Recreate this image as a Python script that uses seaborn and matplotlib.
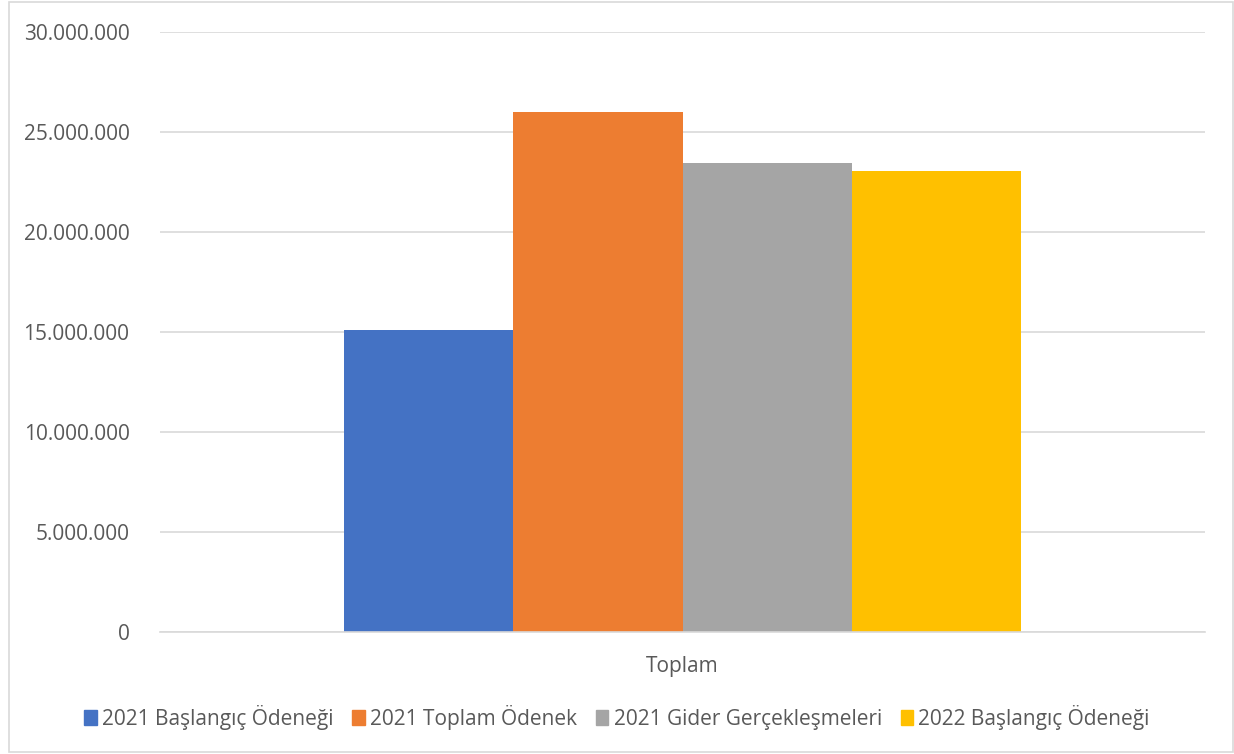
import matplotlib
matplotlib.use("Agg")
import matplotlib.pyplot as plt
import seaborn as sns
import pandas as pd
from matplotlib.ticker import FuncFormatter, MultipleLocator
from matplotlib.patches import Rectangle

categories = ["Toplam"]
series = ["2021 Başlangıç Ödeneği", "2021 Toplam Ödenek",
          "2021 Gider Gerçekleşmeleri", "2022 Başlangıç Ödeneği"]
values = [15080000, 25990000, 23430000, 23030000]
colors = ["#4472C4", "#ED7D31", "#A5A5A5", "#FFC000"]

df = pd.DataFrame({"cat": categories * len(series), "series": series, "val": values})

sns.set_theme(style="white")
plt.rcParams["font.family"] = ["Open Sans", "DejaVu Sans"]

W, H = 1234, 754
fig = plt.figure(figsize=(W / 100, H / 100), dpi=100)
ax = fig.add_axes([160 / W, 1 - 632 / H, (1205 - 160) / W, (632 - 32) / H])

sns.barplot(data=df, x="cat", y="val", hue="series", palette=colors,
            hue_order=series, width=0.648, ax=ax, saturation=1, legend=False)

ax.set_ylim(0, 30000000)
ax.set_xlim(-0.5, 0.5)
ax.yaxis.set_major_locator(MultipleLocator(5000000))
ax.yaxis.set_major_formatter(FuncFormatter(lambda v, p: f"{int(v):,}".replace(",", ".")))
ax.grid(axis="y", color="#D9D9D9", linewidth=1.2)
ax.set_axisbelow(True)
for s in ["left", "right", "top"]:
    ax.spines[s].set_visible(False)
ax.spines["bottom"].set_color("#D9D9D9")
ax.spines["bottom"].set_linewidth(1.2)
ax.tick_params(axis="y", length=0, pad=22, labelsize=15, labelcolor="#595959")
ax.tick_params(axis="x", length=0, pad=17, labelsize=15, labelcolor="#595959")
ax.set_xlabel("")
ax.set_ylabel("")
for p in ax.patches:
    p.set_edgecolor("none")

handles = [Rectangle((0, 0), 1, 1, color=c) for c in colors]
fig.legend(handles, series, loc="center", bbox_to_anchor=(0.5, 1 - 717 / H), ncol=4,
           frameon=False, fontsize=15, labelcolor="#595959", handlelength=0.6,
           handleheight=0.75, handletextpad=0.25, columnspacing=0.9)

fig.patches.append(Rectangle((9 / W, 2 / H), (1233 - 9) / W, (752 - 2) / H,
                             transform=fig.transFigure, fill=False,
                             edgecolor="#D9D9D9", linewidth=1.2))

fig.savefig("out.png", dpi=100, facecolor="white")
